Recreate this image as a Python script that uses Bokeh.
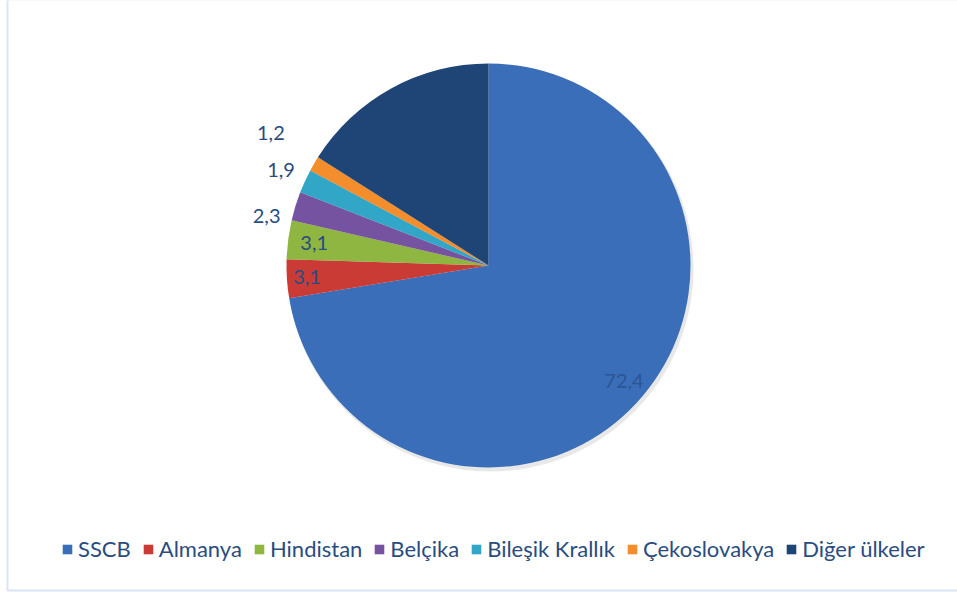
import math
from bokeh.plotting import figure
from bokeh.models import ColumnDataSource, Range1d, Legend, LegendItem
from bokeh.core.properties import value
from bokeh.embed import file_html
from bokeh.resources import INLINE

# ---- data ----
categories = ["SSCB", "Almanya", "Hindistan", "Belçika", "Bileşik Krallık", "Çekoslovakya", "Diğer ülkeler"]
shares = [72.4, 3.1, 3.1, 2.3, 1.9, 1.2, 16.0]
label_texts = ["72,4", "3,1", "3,1", "2,3", "1,9", "1,2", "16,0"]

# ---- styles ----
colors = ["#3A6EB8", "#CB3B36", "#90B642", "#7553A0", "#31A6C6", "#F48D2B", "#1F4476"]
label_colors = ["#2A5696", "#2A4C80", "#2A4C80", "#2A4C80", "#2A4C80", "#2A4C80", "#1F4476"]
label_radius_factor = [0.88, 0.90, 0.87, 1.125, 1.13, 1.26, 0.84]
label_angle_shift_deg = [0, 0, 0, 4.6, 0, -1, 0]

W, H = 957, 592
cx, cy, R = 488, H - 265, 202

total = sum(shares)
starts, ends, lx, ly = [], [], [], []
cum = 0.0
for s, f, da in zip(shares, label_radius_factor, label_angle_shift_deg):
    a0 = math.pi / 2 - 2 * math.pi * cum / total
    cum += s
    a1 = math.pi / 2 - 2 * math.pi * cum / total
    starts.append(a0)
    ends.append(a1)
    mid = (a0 + a1) / 2 + math.radians(da)
    lx.append(cx + f * R * math.cos(mid))
    ly.append(cy + f * R * math.sin(mid))

src = ColumnDataSource(dict(cat=categories, start=starts, end=ends, color=colors,
                            lx=lx, ly=ly, txt=label_texts, tcol=label_colors))

p = figure(width=W, height=H, output_backend="svg", toolbar_location=None,
           x_axis_type=None, y_axis_type=None, min_border=0,
           x_range=Range1d(0, W), y_range=Range1d(0, H))
p.grid.visible = False
p.outline_line_color = None
p.background_fill_color = "white"
p.border_fill_color = "white"

# chart-area frame
p.quad(left=[7], right=[W + 5], bottom=[2], top=[H + 1], fill_color=None,
       line_color="#D9E4F4", line_width=2)

# soft shadow
p.circle(x=[cx + 2], y=[cy - 3], radius=R + 1, fill_color="#D8D8D8", line_color=None, fill_alpha=0.6)

r = p.wedge(x=cx, y=cy, radius=R, start_angle="start", end_angle="end", direction="clock",
            fill_color="color", line_color=None, source=src)

p.text(x="lx", y="ly", text="txt", text_color="tcol", text_align="center", text_baseline="middle",
       text_font=value("Lato"), text_font_size="20px", source=src)

items = [LegendItem(label=c, renderers=[r], index=i) for i, c in enumerate(categories)]
legend = Legend(items=items, orientation="horizontal", location=(61, 30),
                label_text_font="Lato", label_text_font_size="22px", label_text_color="#2A4C80",
                glyph_width=12, glyph_height=12, label_standoff=5, spacing=11,
                padding=0, margin=0, border_line_color=None, background_fill_alpha=0,
                label_height=22)
p.add_layout(legend)

open("out.html", "w").write(file_html(p, INLINE))
